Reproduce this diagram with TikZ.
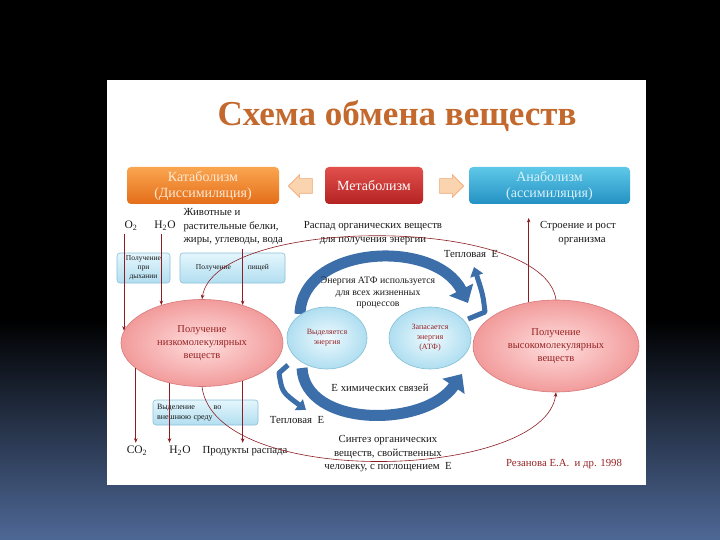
\documentclass[tikz,border=0pt]{standalone}
\usepackage{fontspec}
\setmainfont{Liberation Serif}
\usepackage{tikz}
\usetikzlibrary{positioning,arrows.meta,shapes.geometric,shapes.arrows}
\definecolor{colorline}{RGB}{140,30,35}
\definecolor{colortitle}{RGB}{195,105,45}
\definecolor{colorcatatop}{RGB}{250,165,80}
\definecolor{colorcatabot}{RGB}{228,110,25}
\definecolor{colormetatop}{RGB}{225,80,75}
\definecolor{colormetabot}{RGB}{180,35,35}
\definecolor{coloranatop}{RGB}{95,200,232}
\definecolor{coloranabot}{RGB}{35,145,195}
\definecolor{colorboxtop}{RGB}{228,246,252}
\definecolor{colorboxbot}{RGB}{178,222,240}
\definecolor{colorboxedge}{RGB}{140,190,215}
\definecolor{colorpinkin}{RGB}{255,222,222}
\definecolor{colorpinkout}{RGB}{242,155,155}
\definecolor{colorpinkedge}{RGB}{215,120,120}
\definecolor{colorcyanin}{RGB}{238,250,255}
\definecolor{colorcyanout}{RGB}{175,222,240}
\definecolor{colorcyanedge}{RGB}{130,190,215}
\definecolor{colorblue}{RGB}{60,110,170}
\definecolor{colortext}{RGB}{25,25,25}
\definecolor{colorred}{RGB}{150,35,35}
\definecolor{colorpeach}{RGB}{250,212,175}
\definecolor{colorslide}{RGB}{78,104,150}

\begin{document}
\begin{tikzpicture}[
    x=1pt, y=-1pt,
    font={\fontsize{10.8}{13.5}\selectfont}, text=colortext,
    stage/.style={rounded corners=4pt,minimum height=37pt,align=center,font={\fontsize{14}{16}\selectfont}},
    turn/.style={single arrow,single arrow head extend=4pt,minimum height=24pt,inner xsep=0pt,inner ysep=7pt,fill=colorpeach,draw=colorcatabot!60,line width=0.6pt},
    source/.style={rounded corners=3pt,top color=colorboxtop,bottom color=colorboxbot,draw=colorboxedge,line width=0.6pt,align=center,inner sep=1pt,font={\fontsize{7.5}{9}\selectfont}},
    process/.style={ellipse,inner color=colorpinkin,outer color=colorpinkout,draw=colorpinkedge,line width=0.6pt,align=center,text=colorred,font={\fontsize{10.5}{13}\selectfont},minimum width=162pt,minimum height=87pt,inner sep=0pt},
    pool/.style={ellipse,inner color=colorcyanin,outer color=colorcyanout,draw=colorcyanedge,line width=0.6pt,align=center,text=colorred,font={\fontsize{8}{10}\selectfont},minimum width=80pt,minimum height=62pt,inner sep=0pt},
    relation/.style={align=center},
    flow/.style={draw=colorline,line width=0.6pt,-{Stealth[length=4.5pt,width=3.5pt]}},
    stream/.style={draw=colorblue,line width=11pt,-{Triangle[length=15pt,width=26pt]}},
    heat/.style={draw=colorblue,line width=5pt,line join=round,-{Triangle[length=9pt,width=13pt]}},
]
    \useasboundingbox (0,0) rectangle (720,540);

    % Slide
    \fill[black] (0,0) rectangle (720,540);
    \shade[top color=black,bottom color=colorslide] (0,320) rectangle (720,540);
    \fill[white] (107,80) rectangle (646,485);

    \node[text=colortitle,font={\fontsize{35}{35}\selectfont\bfseries}] (title) at (397,116) {Схема обмена веществ};

    % Stages
    \node[stage,top color=colorcatatop,bottom color=colorcatabot,text=colorcatatop!25,minimum width=152pt] (catabolism) at (203,185.5) {Катаболизм\\(Диссимиляция)};
    \node[stage,top color=colormetatop,bottom color=colormetabot,text=white,minimum width=98pt] (metabolism) at (374,185.5) {Метаболизм};
    \node[stage,top color=coloranatop,bottom color=coloranabot,text=coloranatop!25,minimum width=161pt] (anabolism) at (549.5,185.5) {Анаболизм\\(ассимиляция)};
    \node[turn,shape border rotate=180] (toleft) at (304,186) {};
    \node[turn] (toright) at (448,186) {};

    % Energy streams
    \draw[stream] (300,314) .. controls (302,245) and (435,238) .. (468,303);
    \draw[stream] (302,368) .. controls (305,428) and (425,428) .. (462,374);
    \draw[heat] (468,319) -- (485,312) .. controls (483,295) .. (474,267);
    \draw[heat] (288,365) -- (279,373) .. controls (282,392) .. (306,410);

    % Processes
    \node[process] (lowmol) at (202,343) {Получение\\низкомолекулярных\\веществ};
    \node[process,minimum width=166pt,minimum height=92pt] (highmol) at (556,346) {Получение\\высокомолекулярных\\веществ};
    \node[pool] (release) at (327,338) {Выделяется\\энергия};
    \node[pool,minimum width=82pt] (store) at (430,338) {Запасается\\энергия\\(АТФ)};

    % Sources
    \node[source,minimum width=53pt,minimum height=30pt] (breath) at (143.5,268) {Получение\\при\\дыхании};
    \node[source,minimum width=105pt,minimum height=30pt] (meal) at (232.5,268) {Получение \qquad пищей};
    \node[source,align=left,text width=97pt,inner sep=4pt,minimum height=25pt,font={\fontsize{8}{10}\selectfont}] (excrete) at (205.5,412.5) {Выделение \qquad во\\внешнюю среду};

    % Labels
    \node[font={\fontsize{11.5}{13}\selectfont}] (o2in) at (131,226) {O\textsubscript{2}};
    \node[font={\fontsize{11.5}{13}\selectfont}] (h2oin) at (165,226) {H\textsubscript{2}O};
    \node[anchor=west,align=left] (food) at (180,227) {Животные и\\растительные белки,\\жиры, углеводы, вода};
    \node[relation] (decomp) at (373,233) {Распад органических веществ\\для получения энергии};
    \node[relation] (growth) at (578,233) {Строение и рост\\\hspace*{8pt}организма};
    \node (heattop) at (471,254) {Тепловая \ E};
    \node[relation,font={\fontsize{9.8}{11.5}\selectfont}] (atpuse) at (378,293) {Энергия АТФ используется\\для всех жизненных\\процессов};
    \node (bonds) at (380,388) {E химических связей};
    \node (heatbot) at (297,420) {Тепловая \ E};
    \node[font={\fontsize{11.5}{13}\selectfont}] (co2out) at (137,451) {CO\textsubscript{2}};
    \node[font={\fontsize{11.5}{13}\selectfont}] (h2oout) at (180,451) {H\textsubscript{2}O};
    \node (decay) at (245,451) {Продукты распада};
    \node[relation] (synthesis) at (388,454) {Синтез органических\\веществ, свойственных\\человеку, с поглощением \ E};
    \node[text=colorred] (author) at (564,464) {Резанова Е.А. \ и др. 1998};

    % Flows
    \draw[flow] (lowmol.171 |- o2in.south) -- (lowmol.171);
    \draw[flow] (lowmol.137 |- h2oin.south) -- (lowmol.137);
    \draw[flow] (lowmol.43 |- food.south) -- (lowmol.43);
    \draw[flow] (lowmol.201) -- (lowmol.201 |- co2out.north);
    \draw[flow] (lowmol.231) -- (lowmol.231 |- h2oout.north);
    \draw[flow] (lowmol.317) -- (lowmol.317 |- decay.north);
    \draw[flow] (highmol.122) -- (highmol.122 |- growth.north);
    \draw[flow] (highmol.north) .. controls +(-12,-85) and +(13,-84) .. (lowmol.north);
    \draw[flow] (lowmol.south) .. controls +(13,103) and +(-11,88) .. (highmol.south);

\end{tikzpicture}
\end{document}
